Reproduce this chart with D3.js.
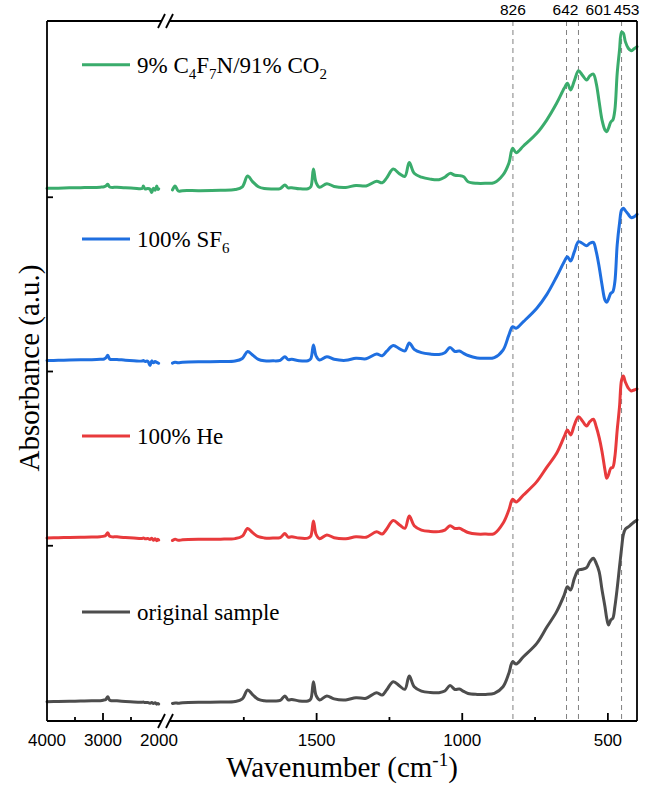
<!DOCTYPE html>
<html>
<head>
<meta charset="utf-8">
<script src="https://cdn.jsdelivr.net/npm/d3@7"></script>
<style>
  body { margin: 0; background: #fff; }
  svg { display: block; }
</style>
</head>
<body>
<script>
// Wavenumbers (cm-1) of the points
const wavenumber = [4000, 3800, 3600, 3400, 3200, 3050, 2980, 2950, 2915, 2880, 2750, 2600, 2450, 2300, 2280, 2250, 2200, 2160, 2130, 2100, 2070, 2040, 2020, 2005,
  1995, 1986, 1975, 1960, 1900, 1830, 1780, 1755, 1737, 1720,
  1700, 1680, 1650, 1625, 1609, 1598, 1585, 1560, 1530, 1520,
  1511, 1502, 1490, 1465, 1440, 1400, 1365, 1330, 1294, 1275,
  1260, 1237, 1215, 1197, 1182, 1165, 1140, 1110, 1080, 1060,
  1042, 1025, 1010, 995, 980, 949, 920, 890, 860, 840,
  827, 815, 790, 744, 710, 676, 650, 639, 628, 615,
  601, 588, 573, 562, 550, 540, 530, 520, 510, 504,
  498, 490, 483, 476, 468, 460, 453, 447, 440, 430,
  420, 410, 400];

// Absorbance (a.u., stacked) for each sample
const original = [0.105, 0.106, 0.107, 0.109, 0.110, 0.111, 0.115, 0.118, 0.134, 0.114, 0.110, 0.106, 0.103, 0.102, 0.103, 0.100, 0.100, 0.096, 0.101, 0.094, 0.099, 0.091, 0.095, 0.092,
  0.095, 0.098, 0.096, 0.099, 0.102, 0.103, 0.106, 0.121, 0.172, 0.146,
  0.118, 0.110, 0.109, 0.112, 0.138, 0.116, 0.118, 0.109, 0.109, 0.121,
  0.220, 0.141, 0.115, 0.138, 0.121, 0.115, 0.128, 0.125, 0.157, 0.143,
  0.172, 0.220, 0.195, 0.176, 0.253, 0.191, 0.166, 0.158, 0.157, 0.166,
  0.198, 0.175, 0.178, 0.164, 0.152, 0.147, 0.147, 0.153, 0.191, 0.268,
  0.335, 0.321, 0.363, 0.440, 0.532, 0.622, 0.717, 0.765, 0.746, 0.813,
  0.861, 0.865, 0.874, 0.908, 0.928, 0.899, 0.851, 0.746, 0.650, 0.584,
  0.545, 0.574, 0.584, 0.650, 0.756, 0.880, 0.985, 1.062, 1.096, 1.108,
  1.122, 1.136, 1.148];

const helium = [1.045, 1.046, 1.048, 1.049, 1.050, 1.052, 1.055, 1.060, 1.075, 1.054, 1.051, 1.047, 1.044, 1.042, 1.045, 1.040, 1.041, 1.036, 1.043, 1.032, 1.040, 1.028, 1.038, 1.033,
  1.030, 1.038, 1.031, 1.034, 1.037, 1.038, 1.041, 1.055, 1.099, 1.075,
  1.052, 1.045, 1.044, 1.047, 1.070, 1.050, 1.052, 1.044, 1.044, 1.055,
  1.142, 1.066, 1.040, 1.062, 1.046, 1.040, 1.052, 1.049, 1.080, 1.067,
  1.095, 1.145, 1.119, 1.100, 1.171, 1.115, 1.090, 1.082, 1.081, 1.090,
  1.115, 1.099, 1.100, 1.088, 1.076, 1.067, 1.067, 1.070, 1.129, 1.205,
  1.267, 1.251, 1.291, 1.368, 1.450, 1.531, 1.626, 1.664, 1.636, 1.693,
  1.741, 1.718, 1.687, 1.712, 1.726, 1.683, 1.622, 1.540, 1.435, 1.387,
  1.406, 1.445, 1.450, 1.511, 1.664, 1.798, 1.951, 1.974, 1.940, 1.905,
  1.888, 1.894, 1.900];

const sf6 = [2.063, 2.064, 2.066, 2.067, 2.068, 2.070, 2.072, 2.078, 2.093, 2.071, 2.069, 2.065, 2.062, 2.060, 2.063, 2.058, 2.059, 2.035, 2.061, 2.050, 2.057, 2.052, 2.049, 2.047,
  2.048, 2.053, 2.050, 2.053, 2.056, 2.057, 2.060, 2.075, 2.115, 2.095,
  2.070, 2.062, 2.061, 2.064, 2.085, 2.068, 2.070, 2.062, 2.062, 2.073,
  2.152, 2.090, 2.066, 2.085, 2.070, 2.064, 2.076, 2.073, 2.100, 2.090,
  2.115, 2.149, 2.130, 2.118, 2.164, 2.127, 2.108, 2.100, 2.098, 2.108,
  2.138, 2.115, 2.118, 2.104, 2.092, 2.078, 2.076, 2.080, 2.123, 2.209,
  2.257, 2.248, 2.286, 2.363, 2.441, 2.544, 2.630, 2.659, 2.634, 2.688,
  2.745, 2.736, 2.722, 2.736, 2.741, 2.688, 2.601, 2.496, 2.410, 2.397,
  2.416, 2.449, 2.458, 2.515, 2.726, 2.851, 2.927, 2.937, 2.923, 2.902,
  2.883, 2.888, 2.902];

const c4f7n = [3.051, 3.052, 3.054, 3.055, 3.056, 3.058, 3.060, 3.064, 3.074, 3.059, 3.057, 3.054, 3.052, 3.050, 3.064, 3.048, 3.050, 3.046, 3.027, 3.052, 3.040, 3.064, 3.045, 3.048,
  3.042, 3.064, 3.036, 3.038, 3.038, 3.040, 3.044, 3.060, 3.122, 3.090,
  3.060, 3.050, 3.048, 3.050, 3.070, 3.054, 3.055, 3.049, 3.049, 3.060,
  3.162, 3.085, 3.057, 3.078, 3.062, 3.056, 3.068, 3.065, 3.092, 3.083,
  3.110, 3.162, 3.134, 3.120, 3.199, 3.138, 3.115, 3.104, 3.101, 3.115,
  3.137, 3.126, 3.124, 3.118, 3.089, 3.080, 3.080, 3.084, 3.128, 3.195,
  3.281, 3.256, 3.294, 3.367, 3.443, 3.539, 3.625, 3.654, 3.616, 3.669,
  3.726, 3.702, 3.673, 3.696, 3.707, 3.654, 3.548, 3.443, 3.386, 3.376,
  3.396, 3.432, 3.443, 3.501, 3.711, 3.845, 3.948, 3.942, 3.893, 3.855,
  3.841, 3.852, 3.864];

// Series names and colours
const seriesNames = ["original sample", "100% He", "100% SF6", "9% C4F7N/91% CO2"];
const seriesValues = [original, helium, sf6, c4f7n];
const seriesColors = ["#4d4d4d", "#e83a3c", "#1f6fe0", "#3aac6c"];

// Marked bands (dashed lines)
const bands = [826, 642, 601, 453];

// Tick labels
const leftTicks = [4000, 3000, 2000];
const leftMinor = [3500, 2500];
const rightTicks = [1500, 1000, 500];
const rightMinor = [1750, 1250, 750];
const yTicks = [1, 2, 3];

// Size of the picture
const w = 654;
const h = 787;
const plot = { left: 47, right: 637, top: 21, bottom: 721 };

const svg = d3.select("body")
  .append("svg")
  .attr("width", w)
  .attr("height", h);

// X scales, one for each side of the break
const xLeft = d3.scaleLinear().domain([4000, 2000]).range([plot.left, 159]);
const xRight = d3.scaleLinear().domain([2000, 400]).range([171, plot.right]);
// Y scale
const yScale = d3.scaleLinear().domain([0, 4]).range([720, 23]);

// Dashed lines for the bands
svg.append("g")
  .selectAll("line")
  .data(bands)
  .enter()
  .append("line")
  .attr("x1", d => xRight(d))
  .attr("x2", d => xRight(d))
  .attr("y1", plot.top)
  .attr("y2", plot.bottom)
  .attr("stroke", "#808080")
  .attr("stroke-width", 1)
  .attr("stroke-dasharray", "5,4");

// Band labels above the frame (shifted so they don't collide)
const bandShift = [0, -1, 20, 5];
svg.append("g")
  .selectAll("text")
  .data(bands)
  .enter()
  .append("text")
  .attr("x", (d, i) => xRight(d) + bandShift[i])
  .attr("y", 15)
  .attr("text-anchor", "middle")
  .attr("font-family", "Liberation Sans, Arial, sans-serif")
  .attr("font-size", 15.5)
  .text(d => d);

// Spectra, drawn as two pieces on each side of the break
const line = d3.line()
  .x(d => d.scale(d.wn))
  .y(d => yScale(d.v))
  .curve(d3.curveCatmullRom.alpha(0.5));

seriesValues.forEach(function (values, k) {
  const pts = wavenumber.map((wn, i) => ({ wn: wn, v: values[i] }));
  const partLeft = pts.filter(p => p.wn >= 2000).map(p => ({ wn: p.wn, v: p.v, scale: xLeft }));
  const partRight = pts.filter(p => p.wn < 2000).map(p => ({ wn: p.wn, v: p.v, scale: xRight }));
  [partLeft, partRight].forEach(function (part) {
    svg.append("path")
      .datum(part)
      .attr("d", line)
      .attr("fill", "none")
      .attr("stroke", seriesColors[k])
      .attr("stroke-width", 3)
      .attr("stroke-linejoin", "round")
      .attr("stroke-linecap", "round");
  });
});

// Frame: left and right sides
const frame = svg.append("g")
  .attr("stroke", "#000")
  .attr("stroke-width", 1.8)
  .attr("fill", "none");
frame.append("line").attr("x1", plot.left).attr("x2", plot.left).attr("y1", plot.top).attr("y2", plot.bottom);
frame.append("line").attr("x1", plot.right).attr("x2", plot.right).attr("y1", plot.top).attr("y2", plot.bottom);
// Top and bottom, broken between the two segments
[plot.top, plot.bottom].forEach(function (y) {
  frame.append("line").attr("x1", plot.left).attr("x2", 162).attr("y1", y).attr("y2", y);
  frame.append("line").attr("x1", 170).attr("x2", plot.right).attr("y1", y).attr("y2", y);
  // break marks
  frame.append("line").attr("x1", 158).attr("x2", 165).attr("y1", y + 7).attr("y2", y - 7);
  frame.append("line").attr("x1", 166).attr("x2", 173).attr("y1", y + 7).attr("y2", y - 7);
});

// X ticks (inward)
const ticks = svg.append("g").attr("stroke", "#000").attr("stroke-width", 1.8);
leftTicks.filter(d => d !== 4000 && d !== 2000).forEach(d => {
  ticks.append("line").attr("x1", xLeft(d)).attr("x2", xLeft(d)).attr("y1", plot.bottom).attr("y2", plot.bottom - 8);
});
leftMinor.forEach(d => {
  ticks.append("line").attr("x1", xLeft(d)).attr("x2", xLeft(d)).attr("y1", plot.bottom).attr("y2", plot.bottom - 4);
});
rightTicks.forEach(d => {
  ticks.append("line").attr("x1", xRight(d)).attr("x2", xRight(d)).attr("y1", plot.bottom).attr("y2", plot.bottom - 8);
});
rightMinor.forEach(d => {
  ticks.append("line").attr("x1", xRight(d)).attr("x2", xRight(d)).attr("y1", plot.bottom).attr("y2", plot.bottom - 4);
});
// Y ticks (inward)
yTicks.forEach(d => {
  ticks.append("line").attr("x1", plot.left).attr("x2", plot.left + 6).attr("y1", yScale(d)).attr("y2", yScale(d));
});

// X tick labels
const tickFont = "Liberation Sans, Arial, sans-serif";
leftTicks.forEach(d => {
  svg.append("text")
    .attr("x", xLeft(d))
    .attr("y", 746)
    .attr("text-anchor", "middle")
    .attr("font-family", tickFont)
    .attr("font-size", 17)
    .text(d);
});
rightTicks.forEach(d => {
  svg.append("text")
    .attr("x", xRight(d))
    .attr("y", 746)
    .attr("text-anchor", "middle")
    .attr("font-family", tickFont)
    .attr("font-size", 17)
    .text(d);
});

// Axis titles
const serif = "Liberation Serif, Times New Roman, serif";
const xTitle = svg.append("text")
  .attr("x", (plot.left + plot.right) / 2)
  .attr("y", 777)
  .attr("text-anchor", "middle")
  .attr("font-family", serif)
  .attr("font-size", 29)
  .text("Wavenumber (cm");
xTitle.append("tspan").attr("font-size", 19).attr("dy", -11).text("-1");
xTitle.append("tspan").attr("dy", 11).text(")");

svg.append("text")
  .attr("transform", `translate(39, ${(plot.top + plot.bottom) / 2 - 3}) rotate(-90)`)
  .attr("text-anchor", "middle")
  .attr("font-family", serif)
  .attr("font-size", 29)
  .text("Absorbance (a.u.)");

// Legend, one entry above each spectrum
const legendLevel = [0.62, 1.63, 2.76, 3.76];
seriesNames.forEach(function (name, k) {
  const y = yScale(legendLevel[k]);
  svg.append("line")
    .attr("x1", 82)
    .attr("x2", 130)
    .attr("y1", y)
    .attr("y2", y)
    .attr("stroke", seriesColors[k])
    .attr("stroke-width", 3);
  const t = svg.append("text")
    .attr("x", 137)
    .attr("y", y + 8)
    .attr("font-family", serif)
    .attr("font-size", 23);
  // digits right after a letter become subscripts
  let sub = false;
  name.split("").forEach(function (ch, i) {
    const prev = i > 0 ? name[i - 1] : "";
    const isDigit = /[0-9]/.test(ch);
    const wantSub = isDigit && (/[A-Za-z]/.test(prev) || (sub && /[0-9]/.test(prev)));
    const ts = t.append("tspan").text(ch);
    if (wantSub && !sub) ts.attr("dy", 6);
    if (!wantSub && sub) ts.attr("dy", -6);
    if (wantSub) ts.attr("font-size", 15);
    sub = wantSub;
  });
});
</script>
</body>
</html>
